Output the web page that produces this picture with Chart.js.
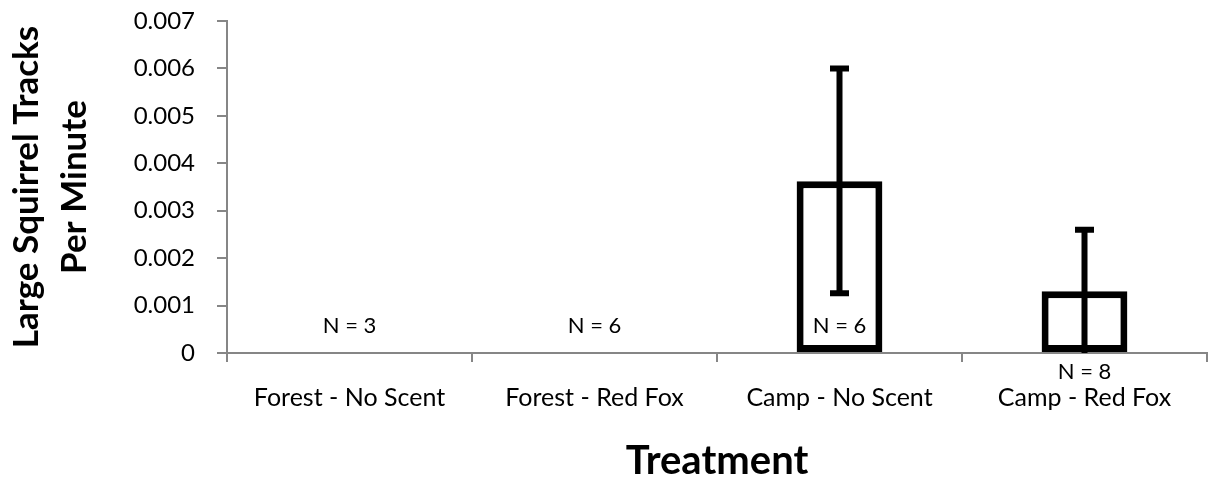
<!DOCTYPE html>
<html>
<head>
<meta charset="utf-8">
<script src="https://cdn.jsdelivr.net/npm/chart.js@4.4.0/dist/chart.umd.min.js"></script>
<style>
html, body { margin: 0; padding: 0; background: #fff; }
#wrap { width: 1210px; height: 487px; }
</style>
</head>
<body>
<div id="wrap"><canvas id="chart"></canvas></div>
<script>
'use strict'

//카테고리
const categories = ['Forest - No Scent', 'Forest - Red Fox', 'Camp - No Scent', 'Camp - Red Fox'];
//막대 값
const trackRate = [0, 0, 0.00362, 0.0013];
//오차 막대 (아래 / 위)
const errLow = [null, null, 0.00126, 0];
const errHigh = [null, null, 0.006, 0.0026];
//표본 수
const sampleLabels = ['N = 3', 'N = 6', 'N = 6', 'N = 8'];
//y축 눈금
const yTickLabels = ['0', '0.001', '0.002', '0.003', '0.004', '0.005', '0.006', '0.007'];

const FONT = 'Lato';
const AXIS_GRAY = '#868686';

// =====================================================================================================

//오차 막대 + N 라벨
const errorBarPlugin = {
	id: 'errorBars',
	afterDatasetsDraw(chart) {
		const ctx = chart.ctx;
		const x = chart.scales.x;
		const y = chart.scales.y;
		const y0 = y.getPixelForValue(0);
		ctx.save();
		ctx.strokeStyle = '#000';
		ctx.lineWidth = 6;
		ctx.lineCap = 'butt';
		for (let i = 0; i < categories.length; i++) {
			if (errHigh[i] == null) continue;
			const cx = x.getPixelForValue(i);
			const top = y.getPixelForValue(errHigh[i]);
			const bot = y.getPixelForValue(errLow[i]);
			ctx.beginPath();
			ctx.moveTo(cx, top);
			ctx.lineTo(cx, bot);
			ctx.moveTo(cx - 9.5, top);
			ctx.lineTo(cx + 9.5, top);
			if (errLow[i] > 0) {
				ctx.moveTo(cx - 9.5, bot);
				ctx.lineTo(cx + 9.5, bot);
			}
			ctx.stroke();
		}
		ctx.fillStyle = '#000';
		ctx.font = '22px ' + FONT;
		ctx.textAlign = 'center';
		ctx.textBaseline = 'middle';
		for (let i = 0; i < categories.length; i++) {
			const cx = x.getPixelForValue(i);
			//오차 막대가 바닥까지 내려오면 축 아래에
			const ty = errLow[i] === 0 ? y0 + 19 : y0 - 27;
			ctx.fillText(sampleLabels[i], cx, ty);
		}
		ctx.restore();
	}
};

new Chart(document.getElementById('chart'), {
	type: 'bar',
	data: {
		labels: categories,
		datasets: [{
			data: trackRate,
			backgroundColor: '#fff',
			borderColor: '#000',
			borderWidth: 7,
			borderSkipped: false,
			barPercentage: 0.35,
			categoryPercentage: 1
		}]
	},
	options: {
		responsive: true,
		maintainAspectRatio: false,
		animation: false,
		layout: { padding: { top: 21, right: 3, left: 0, bottom: 0 } },
		plugins: {
			legend: { display: false },
			tooltip: { enabled: false }
		},
		scales: {
			x: {
				grid: {
					offset: true,
					drawOnChartArea: false,
					color: AXIS_GRAY,
					lineWidth: 2,
					tickLength: 9
				},
				border: { color: AXIS_GRAY, width: 2 },
				ticks: {
					color: '#000',
					font: { family: FONT, size: 25 },
					padding: 21,
					maxRotation: 0
				},
				title: {
					display: true,
					text: 'Treatment',
					color: '#000',
					font: { family: FONT, size: 40, weight: 'bold' },
					padding: { top: 0, bottom: 2 }
				},
				afterFit(scale) { scale.height = 134; }
			},
			y: {
				min: 0,
				max: 0.007,
				grid: {
					drawOnChartArea: false,
					color: AXIS_GRAY,
					lineWidth: 2,
					tickLength: 10
				},
				border: { color: AXIS_GRAY, width: 2 },
				ticks: {
					stepSize: 0.001,
					color: '#000',
					font: { family: FONT, size: 24 },
					padding: 22,
					callback: (v, i) => yTickLabels[i]
				},
				title: {
					display: true,
					text: ['Large Squirrel Tracks', 'Per Minute'],
					color: '#000',
					font: { family: FONT, size: 35, weight: 'bold', lineHeight: 1.37 },
					padding: { top: 3, bottom: 0 }
				},
				afterFit(scale) {
					scale.width = 227;
					//눈금 여백 때문에 위쪽이 밀리지 않게
					scale.paddingTop = 0;
					scale.paddingBottom = 0;
				}
			}
		}
	},
	plugins: [errorBarPlugin]
});
</script>
</body>
</html>
